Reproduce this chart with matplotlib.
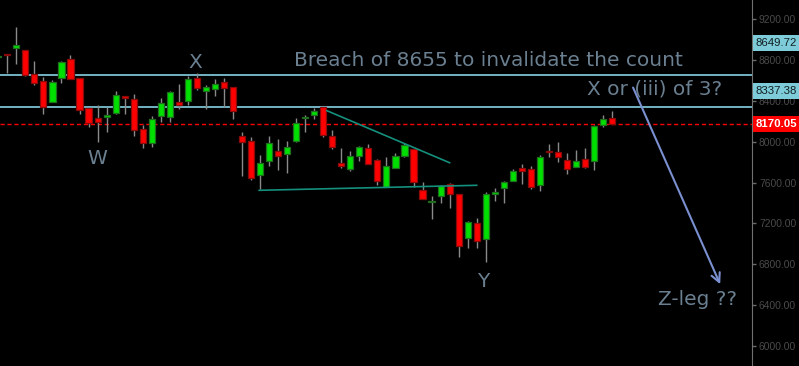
import matplotlib
matplotlib.use("Agg")
import matplotlib.pyplot as plt
from matplotlib.patches import Rectangle
import numpy as np

# daily OHLC (index 0 is the clipped candle on the far left)
opens = [8831, 8855, 8916, 8896, 8661, 8593, 8387, 8622, 8808, 8622, 8328,
         8230, 8240, 8285, 8439, 8416, 8123, 7985, 8256, 8246, 8387,
         8397, 8622, 8495, 8514, 8583, 8534, 8054, 8008, 7678, 7809,
         7910, 7884, 8005, 8230, 8260, 8341, 8054, 7790, 7731, 7864,
         7936, 7819, 7554, 7740, 7858, 7927, 7525, 7413, 7466, 7584,
         7486, 7055, 7202, 7045, 7486, 7545, 7613, 7740, 7731, 7574,
         7907, 7897, 7819, 7750, 7829, 7809, 8162, 8230]
highs = [8850, 8860, 9122, 8896, 8792, 8632, 8605, 8794, 8850, 8622, 8328,
         8361, 8344, 8498, 8442, 8465, 8165, 8253, 8426, 8501, 8566,
         8645, 8671, 8559, 8615, 8622, 8534, 8099, 8047, 7871, 8057,
         8028, 8008, 8230, 8263, 8328, 8341, 8116, 7939, 7910, 7962,
         7979, 7832, 7848, 7887, 7985, 7927, 7603, 7469, 7577, 7594,
         7486, 7221, 7254, 7505, 7548, 7613, 7731, 7780, 7760, 7868,
         7976, 7995, 7887, 7917, 7936, 8162, 8260, 8299]
lows = [8820, 8674, 8759, 8642, 8559, 8275, 8387, 8579, 8612, 8275, 8148,
        8001, 8099, 8272, 8275, 8060, 7942, 7952, 8197, 8197, 8324,
        8361, 8508, 8324, 8452, 8344, 8226, 7665, 7626, 7535, 7763,
        7724, 7697, 8001, 8099, 8226, 8050, 7933, 7740, 7717, 7815,
        7780, 7577, 7554, 7740, 7854, 7560, 7437, 7244, 7401, 7352,
        6875, 6963, 6963, 6826, 7423, 7404, 7613, 7590, 7535, 7521,
        7848, 7799, 7682, 7750, 7740, 7721, 8142, 8170]
closes = [8843, 8847, 8945, 8651, 8573, 8338, 8583, 8779, 8612, 8309, 8181,
          8191, 8260, 8456, 8432, 8113, 7985, 8220, 8377, 8485, 8358,
          8612, 8524, 8534, 8563, 8524, 8299, 8001, 7649, 7790, 7985,
          7864, 7946, 8187, 8236, 8299, 8064, 7952, 7760, 7858, 7946,
          7780, 7613, 7760, 7858, 7966, 7603, 7437, 7420, 7564, 7486,
          6977, 7212, 7025, 7486, 7505, 7603, 7711, 7711, 7554, 7848,
          7897, 7848, 7731, 7809, 7750, 8152, 8220, 8170.05]

invalidation = 8655
level_hi = 8649.72
level_lo = 8337.38
last_price = 8170.05
yticks = [6000, 6400, 6800, 7200, 7600, 8000, 8400, 8800, 9200]

# trend lines (bar index, price)
down_line = ([36.4, 50.0], [8305, 7795])
base_line = ([28.9, 53.0], [7525, 7574])

GREEN, RED = "#00e000", "#ff0000"
TXT = "#6a7f90"
W, H = 799, 366

fig = plt.figure(figsize=(7.99, 3.66), dpi=100, facecolor="black")
ax = fig.add_axes([0, 0, 752 / W, 1], facecolor="black")

x = np.arange(len(opens))
o, h, l, c = map(np.array, (opens, highs, lows, closes))
up = c >= o
ax.vlines(x, l, h, color="#8a8a8a", lw=1, zorder=2)
bottom = np.minimum(o, c)
height = np.maximum(np.abs(c - o), 12)
ax.bar(x[up], height[up], bottom=bottom[up], width=0.68, color=GREEN,
       edgecolor="#1e6e1e", lw=0.9, zorder=3)
ax.bar(x[~up], height[~up], bottom=bottom[~up], width=0.68, color=RED,
       edgecolor="#8a0a0a", lw=0.9, zorder=3)

ax.axhline(invalidation, color="#86d2e2", lw=1.2, zorder=1)
ax.axhline(level_lo, color="#86d2e2", lw=1.2, zorder=1)
ax.axhline(last_price, color=RED, lw=1, ls=(0, (3, 2)), zorder=1)
ax.plot(*down_line, color="#14907c", lw=1.2, zorder=4)
ax.plot(*base_line, color="#14907c", lw=1.2, zorder=4)

ax.set_xlim(0.19, 83.5)
ax.set_ylim(5804, 9389)

fs = 14.5
ax.text(54.3, 8801, "Breach of 8655 to invalidate the count", color=TXT,
        fontsize=fs, ha="center", va="center")
ax.text(72.7, 8517, "X or (iii) of 3?", color=TXT, fontsize=fs, ha="center", va="center")
ax.text(21.8, 8772, "X", color=TXT, fontsize=fs, ha="center", va="center")
ax.text(11.0, 7832, "W", color=TXT, fontsize=fs, ha="center", va="center")
ax.text(53.7, 6627, "Y", color=TXT, fontsize=fs, ha="center", va="center")
ax.text(77.5, 6460, "Z-leg ??", color=TXT, fontsize=fs, ha="center", va="center")
ax.annotate("", xy=(80.1, 6580), xytext=(70.2, 8556),
            arrowprops=dict(arrowstyle="->", color="#7a90d0", lw=1.5,
                            mutation_scale=16))

# price axis on the right
ax.yaxis.tick_right()
ax.set_yticks(yticks)
ax.set_yticklabels([f"{v:.2f}" for v in yticks])
ax.tick_params(axis="y", colors="#6a6a6a", labelcolor="#4a4a4a", length=3,
               width=1, pad=2, labelsize=7.4, labelfontfamily="Liberation Sans")
ax.set_xticks([])
for s in ("top", "left", "bottom"):
    ax.spines[s].set_visible(False)
ax.spines["right"].set_color("#707070")

# price tags on the axis (positions as drawn in the source chart)
tags = [(43, f"{level_hi:.2f}", "#7ecbd9", "#102020", "normal"),
        (91, f"{level_lo:.2f}", "#7ecbd9", "#102020", "normal"),
        (124, f"{last_price:.2f}", RED, "white", "bold")]
for ypix, txt, bg, fg, wt in tags:
    fig.patches.append(Rectangle((753 / W, 1 - (ypix + 7.5) / H), 46 / W, 15 / H,
                                 transform=fig.transFigure, fc=bg, ec="none",
                                 zorder=5))
    fig.text(776 / W, 1 - ypix / H, txt, ha="center", va="center", zorder=6,
             fontsize=8.2, color=fg, family="Liberation Sans", weight=wt)

fig.savefig("out.png", dpi=100, facecolor="black")
